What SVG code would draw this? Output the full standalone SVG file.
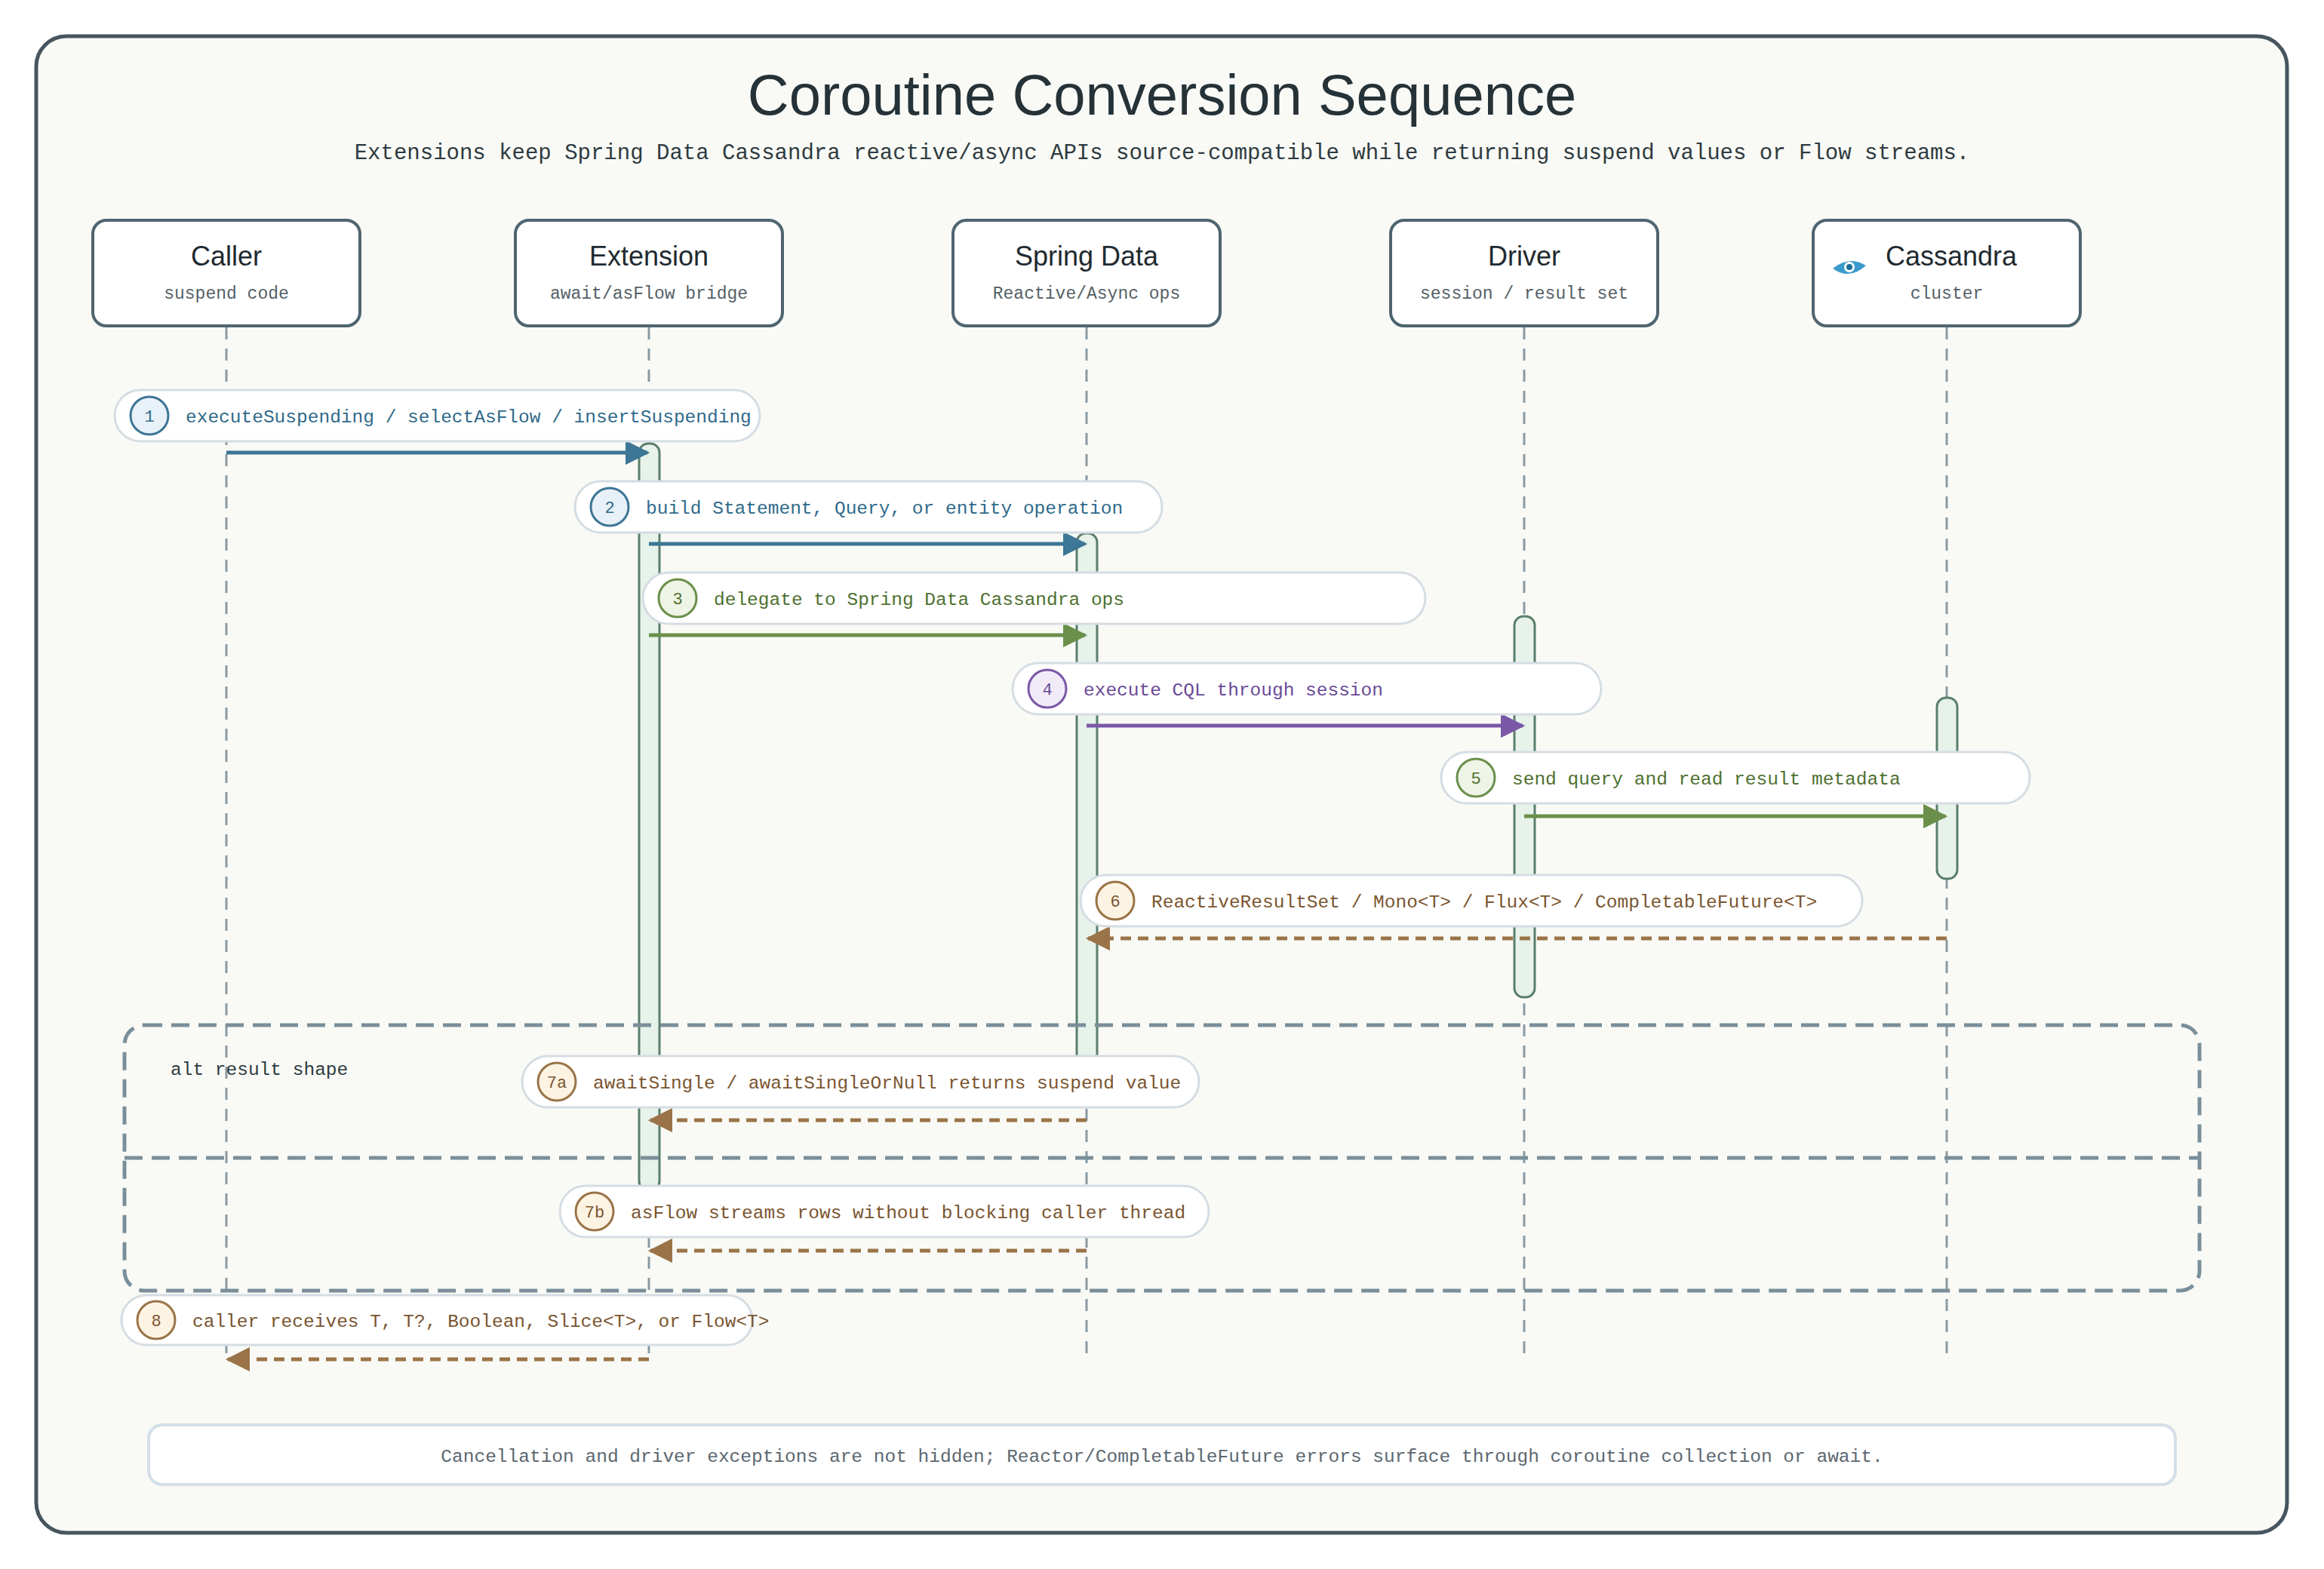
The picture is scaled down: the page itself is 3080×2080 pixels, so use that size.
<svg xmlns="http://www.w3.org/2000/svg" width="3080" height="2080" viewBox="0 0 3080 2080">
<style>
.title{font-family:"Liberation Sans",sans-serif;font-size:76px;fill:#253238;}
.sub{font-family:"Liberation Mono",monospace;font-size:29px;fill:#2e3a40;}
.box{fill:#ffffff;stroke:#4f6570;stroke-width:4;}
.bt{font-family:"Liberation Sans",sans-serif;font-size:36px;fill:#1f2a30;text-anchor:middle;}
.bs{font-family:"Liberation Mono",monospace;font-size:23px;fill:#555f66;text-anchor:middle;}
.life{stroke:#8a9aa3;stroke-width:3;stroke-dasharray:16 12;fill:none;}
.act{fill:#e6f2ea;stroke:#5a7f6a;stroke-width:3;}
.pill{fill:#ffffff;stroke:#d5dde3;stroke-width:3;}
.lt{font-family:"Liberation Mono",monospace;font-size:24.5px;}
.num{font-family:"Liberation Mono",monospace;font-size:22px;text-anchor:middle;}
.solid{stroke-width:5;fill:none;}
.dash{stroke-width:5;fill:none;stroke-dasharray:14 9;}
.blue{stroke:#3d7696;} .green{stroke:#6a8f4a;} .purple{stroke:#7a58a6;} .brown{stroke:#9a7448;}
.tblue{fill:#2f6a8a;} .tgreen{fill:#4e7030;} .tpurple{fill:#6a4a96;} .tbrown{fill:#7a5530;}
.cblue{fill:#e8f1f8;stroke:#3d7696;stroke-width:3;} .cgreen{fill:#eef5e6;stroke:#6a8f4a;stroke-width:3;}
.cpurple{fill:#f1ebf8;stroke:#7a58a6;stroke-width:3;} .cbrown{fill:#fdf3e3;stroke:#9a7448;stroke-width:3;}
.alt{fill:none;stroke:#7a8f9a;stroke-width:5;stroke-dasharray:24 12;}
</style>
<defs>
<marker id="ab" viewBox="0 0 10 10" refX="9" refY="5" markerWidth="6.5" markerHeight="6.5" orient="auto-start-reverse"><path d="M0,0 L10,5 L0,10 z" fill="#3d7696"/></marker>
<marker id="ag" viewBox="0 0 10 10" refX="9" refY="5" markerWidth="6.5" markerHeight="6.5" orient="auto-start-reverse"><path d="M0,0 L10,5 L0,10 z" fill="#6a8f4a"/></marker>
<marker id="ap" viewBox="0 0 10 10" refX="9" refY="5" markerWidth="6.5" markerHeight="6.5" orient="auto-start-reverse"><path d="M0,0 L10,5 L0,10 z" fill="#7a58a6"/></marker>
<marker id="an" viewBox="0 0 10 10" refX="9" refY="5" markerWidth="6.5" markerHeight="6.5" orient="auto-start-reverse"><path d="M0,0 L10,5 L0,10 z" fill="#9a7448"/></marker>
</defs>
<rect x="0" y="0" width="3080" height="2080" fill="#ffffff"/>
<rect x="48" y="48" width="2983" height="1984" rx="40" fill="#f9faf6" stroke="#46555e" stroke-width="5"/>
<text class="title" x="1540" y="152" text-anchor="middle">Coroutine Conversion Sequence</text>
<text class="sub" x="1540" y="211" text-anchor="middle">Extensions keep Spring Data Cassandra reactive/async APIs source-compatible while returning suspend values or Flow streams.</text>

<g id="lifelines">
<line class="life" x1="300" y1="434" x2="300" y2="1800"/>
<line class="life" x1="860" y1="434" x2="860" y2="1800"/>
<line class="life" x1="1440" y1="434" x2="1440" y2="1800"/>
<line class="life" x1="2020" y1="434" x2="2020" y2="1800"/>
<line class="life" x1="2580" y1="434" x2="2580" y2="1800"/>
</g>

<g id="activations">
<rect class="act" x="847" y="588" width="27" height="990" rx="12"/>
<rect class="act" x="1427" y="707" width="27" height="720" rx="12"/>
<rect class="act" x="2007" y="817" width="27" height="505" rx="12"/>
<rect class="act" x="2567" y="925" width="27" height="240" rx="12"/>
</g>

<g id="caller"><rect class="box" x="123" y="292" width="354" height="140" rx="18"/><text class="bt" x="300" y="352">Caller</text><text class="bs" x="300" y="396">suspend code</text></g>
<g id="extension"><rect class="box" x="683" y="292" width="354" height="140" rx="18"/><text class="bt" x="860" y="352">Extension</text><text class="bs" x="860" y="396">await/asFlow bridge</text></g>
<g id="springdata"><rect class="box" x="1263" y="292" width="354" height="140" rx="18"/><text class="bt" x="1440" y="352">Spring Data</text><text class="bs" x="1440" y="396">Reactive/Async ops</text></g>
<g id="driver"><rect class="box" x="1843" y="292" width="354" height="140" rx="18"/><text class="bt" x="2020" y="352">Driver</text><text class="bs" x="2020" y="396">session / result set</text></g>
<g id="cassandra"><rect class="box" x="2403" y="292" width="354" height="140" rx="18"/>
<g transform="translate(2451,356)"><path d="M-22,0 Q0,-18 22,-4 Q0,16 -22,0 z" fill="#3b9ccc"/><circle cx="0" cy="-2" r="7" fill="#ffffff"/><circle cx="0" cy="-2" r="4" fill="#1d6f9a"/></g>
<text class="bt" x="2586" y="352">Cassandra</text><text class="bs" x="2580" y="396">cluster</text></g>

<g id="alt-frame">
<rect class="alt" x="165" y="1359" width="2750" height="352" rx="26"/>
<line class="alt" x1="165" y1="1535" x2="2915" y2="1535"/>
<text class="lt" x="226" y="1425" fill="#2e3a40" font-size="24">alt result shape</text>
</g>

<g id="connectors">
<line class="solid blue" x1="300" y1="600" x2="858" y2="600" marker-end="url(#ab)"/>
<line class="solid blue" x1="860" y1="721" x2="1438" y2="721" marker-end="url(#ab)"/>
<line class="solid green" x1="860" y1="842" x2="1438" y2="842" marker-end="url(#ag)"/>
<line class="solid purple" x1="1440" y1="962" x2="2018" y2="962" marker-end="url(#ap)"/>
<line class="solid green" x1="2020" y1="1082" x2="2578" y2="1082" marker-end="url(#ag)"/>
<line class="dash brown" x1="2580" y1="1244" x2="1442" y2="1244" marker-end="url(#an)"/>
<line class="dash brown" x1="1440" y1="1485" x2="862" y2="1485" marker-end="url(#an)"/>
<line class="dash brown" x1="1440" y1="1658" x2="862" y2="1658" marker-end="url(#an)"/>
<line class="dash brown" x1="860" y1="1802" x2="302" y2="1802" marker-end="url(#an)"/>
</g>

<g id="labels">
<g id="m1"><rect class="pill" x="152" y="517" width="855" height="68" rx="34"/><circle class="cblue" cx="198" cy="551" r="25"/><text class="num tblue" x="198" y="559">1</text><text class="lt tblue" x="246" y="560">executeSuspending / selectAsFlow / insertSuspending</text></g>
<g id="m2"><rect class="pill" x="762" y="638" width="778" height="68" rx="34"/><circle class="cblue" cx="808" cy="672" r="25"/><text class="num tblue" x="808" y="680">2</text><text class="lt tblue" x="856" y="681">build Statement, Query, or entity operation</text></g>
<g id="m3"><rect class="pill" x="852" y="759" width="1037" height="68" rx="34"/><circle class="cgreen" cx="898" cy="793" r="25"/><text class="num tgreen" x="898" y="801">3</text><text class="lt tgreen" x="946" y="802">delegate to Spring Data Cassandra ops</text></g>
<g id="m4"><rect class="pill" x="1342" y="879" width="780" height="68" rx="34"/><circle class="cpurple" cx="1388" cy="913" r="25"/><text class="num tpurple" x="1388" y="921">4</text><text class="lt tpurple" x="1436" y="922">execute CQL through session</text></g>
<g id="m5"><rect class="pill" x="1910" y="997" width="780" height="68" rx="34"/><circle class="cgreen" cx="1956" cy="1031" r="25"/><text class="num tgreen" x="1956" y="1039">5</text><text class="lt tgreen" x="2004" y="1040">send query and read result metadata</text></g>
<g id="m6"><rect class="pill" x="1432" y="1160" width="1036" height="68" rx="34"/><circle class="cbrown" cx="1478" cy="1194" r="25"/><text class="num tbrown" x="1478" y="1202">6</text><text class="lt tbrown" x="1526" y="1203">ReactiveResultSet / Mono&lt;T&gt; / Flux&lt;T&gt; / CompletableFuture&lt;T&gt;</text></g>
<g id="m7a"><rect class="pill" x="692" y="1400" width="897" height="68" rx="34"/><circle class="cbrown" cx="738" cy="1434" r="25"/><text class="num tbrown" x="738" y="1442">7a</text><text class="lt tbrown" x="786" y="1443">awaitSingle / awaitSingleOrNull returns suspend value</text></g>
<g id="m7b"><rect class="pill" x="742" y="1572" width="860" height="68" rx="34"/><circle class="cbrown" cx="788" cy="1606" r="25"/><text class="num tbrown" x="788" y="1614">7b</text><text class="lt tbrown" x="836" y="1615">asFlow streams rows without blocking caller thread</text></g>
<g id="m8"><rect class="pill" x="161" y="1717" width="836" height="66" rx="33"/><circle class="cbrown" cx="207" cy="1750" r="25"/><text class="num tbrown" x="207" y="1758">8</text><text class="lt tbrown" x="255" y="1759">caller receives T, T?, Boolean, Slice&lt;T&gt;, or Flow&lt;T&gt;</text></g>
</g>

<g id="footnote">
<rect x="197" y="1889" width="2686" height="79" rx="18" fill="#ffffff" stroke="#d3dfe8" stroke-width="4"/>
<text class="lt" x="1540" y="1938" text-anchor="middle" fill="#5b6770" font-size="22.7">Cancellation and driver exceptions are not hidden; Reactor/CompletableFuture errors surface through coroutine collection or await.</text>
</g>
</svg>
